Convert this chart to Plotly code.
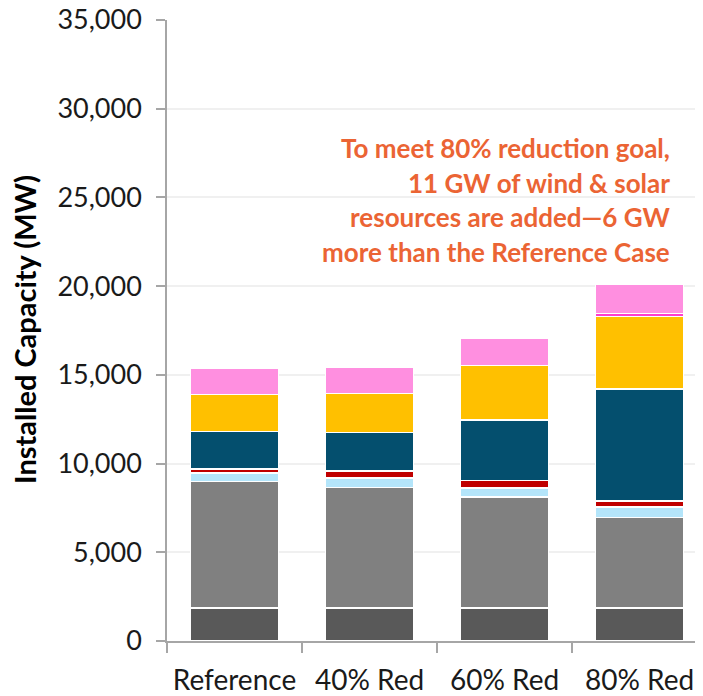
import plotly.graph_objects as go

categories = ["Reference", "40% Red", "60% Red", "80% Red"]

dark_gray = [1850, 1850, 1850, 1850]
gray = [7130, 6790, 6270, 5120]
light_blue = [500, 560, 500, 580]
red = [220, 370, 430, 350]
navy = [2100, 2190, 3410, 6300]
yellow = [2100, 2190, 3070, 4100]
magenta = [0, 0, 0, 170]
pink = [1500, 1500, 1520, 1610]

series = [
    ("Series 1", dark_gray, "#595959"),
    ("Series 2", gray, "#808080"),
    ("Series 3", light_blue, "#B4E5FA"),
    ("Series 4", red, "#C00000"),
    ("Series 5", navy, "#044F6E"),
    ("Series 6", yellow, "#FFC000"),
    ("Series 7", magenta, "#FF3DCF"),
    ("Series 8", pink, "#FF8FE0"),
]

y_ticks = [0, 5000, 10000, 15000, 20000, 25000, 30000, 35000]
y_tick_labels = ["0", "5,000", "10,000", "15,000", "20,000", "25,000", "30,000", "35,000"]

note_lines = [
    "To meet 80% reduction goal,",
    "11 GW of wind & solar",
    "resources are added\u20146 GW",
    "more than the Reference Case",
]

# page has an 8px body margin; layout numbers below are in figure pixels
OFF = 8
L, T = 167 - OFF, 20 - OFF
B = 696 - (641 - OFF)
R = OFF
PW = 703 - L - R
PH = 696 - T - B

fig = go.Figure()
for name, vals, color in series:
    fig.add_trace(go.Bar(
        x=categories, y=vals, name=name,
        marker=dict(color=color, line=dict(color="white", width=1.5)),
        showlegend=False,
    ))

fig.update_layout(
    barmode="stack",
    bargap=0.35,
    width=703, height=696,
    margin=dict(l=L, r=R, t=T, b=B, autoexpand=False),
    plot_bgcolor="white", paper_bgcolor="white",
    font=dict(family="Lato", color="#1a1a1a"),
)

fig.update_xaxes(
    automargin=False,
    range=[-0.5, 3.47],
    showline=True, linecolor="#a6a6a6", linewidth=1.5,
    ticks="outside", tickson="boundaries", ticklen=10, tickcolor="#a6a6a6", tickwidth=1.5,
    tickfont=dict(size=28, family="Lato", color="#1a1a1a"),
    ticklabelstandoff=14,
    ticklabeloverflow="allow",
    showgrid=False,
)
fig.update_yaxes(
    automargin=False,
    range=[0, 35000],
    tickvals=y_ticks, ticktext=y_tick_labels,
    showline=True, linecolor="#a6a6a6", linewidth=1.5,
    ticks="outside", ticklen=9, tickcolor="#a6a6a6", tickwidth=1.5,
    tickfont=dict(size=27, family="Lato", color="#1a1a1a"),
    ticklabelstandoff=9,
    ticklabeloverflow="allow",
    showgrid=True, gridcolor="#f0f0f0", gridwidth=1.5,
    zeroline=False,
)

fig.add_annotation(
    text="<b>Installed Capacity (MW)</b>",
    xref="paper", yref="paper",
    x=-(167 - 24) / PW, y=1 - (330 - 20) / PH,
    xanchor="center", yanchor="middle", textangle=-90, showarrow=False,
    font=dict(size=29, family="Lato", color="#000000"),
)

line_y = [148, 183, 217, 252]
for txt, yy in zip(note_lines, line_y):
    fig.add_annotation(
        text="<b>" + txt + "</b>",
        xref="paper", yref="paper",
        x=(672 - 167) / PW, y=1 - (yy - 20) / PH,
        xanchor="right", yanchor="middle", showarrow=False,
        font=dict(size=26, family="Lato", color="#EB6434"),
    )

fig.write_html("out.html")
